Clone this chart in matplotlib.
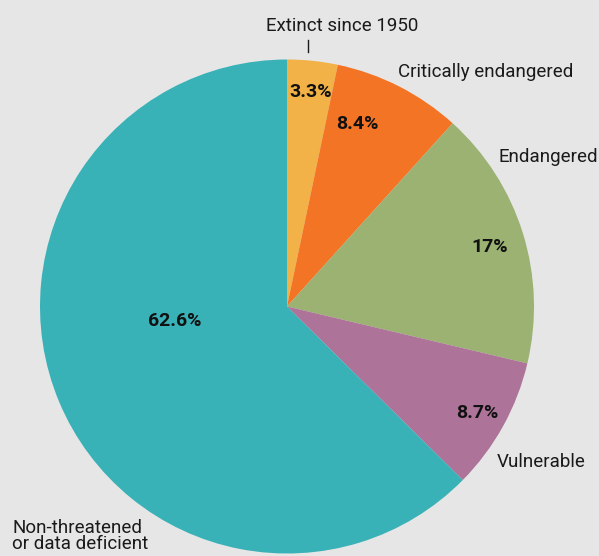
import matplotlib
matplotlib.use('Agg')
import matplotlib.pyplot as plt

categories = ['Extinct since 1950', 'Critically endangered', 'Endangered', 'Vulnerable',
              'Non-threatened\nor data deficient']
values = [3.3, 8.4, 17, 8.7, 62.6]
pct_labels = ['3.3%', '8.4%', '17%', '8.7%', '62.6%']
colors = ['#f2b247', '#f37424', '#9bb273', '#ad7399', '#38b1b7']

plt.rcParams['font.family'] = ['Roboto', 'DejaVu Sans']

W, H = 599, 556
cx, cy, R = 287, 306.5, 247.0
bg = '#e6e6e6'

fig = plt.figure(figsize=(W / 100, H / 100), dpi=100, facecolor=bg)
ax = fig.add_axes([0, 0, 1, 1])
ax.set_facecolor(bg)

ax.pie(values, colors=colors, startangle=90, counterclock=False, radius=1,
       wedgeprops=dict(linewidth=0))

# pie() resets the limits, so fix them afterwards
ax.set_xlim(-cx / R, (W - cx) / R)
ax.set_ylim(-(H - cy) / R, cy / R)
ax.set_aspect('equal')
ax.axis('off')

def px(x, y):
    return (x - cx) / R, (cy - y) / R

# percentage labels
pct_pos = [(311, 92), (357, 124), (490, 247), (477, 413), (175, 321)]
for lab, (x, y) in zip(pct_labels, pct_pos):
    ax.text(*px(x, y), lab, ha='center', va='center', fontsize=14, fontweight='bold', color='#111111')

# category labels
cat_pos = [(342, 26, 'center'), (398, 72, 'left'), (498, 157, 'left'), (497, 462, 'left'), (12, 536, 'left')]
for lab, (x, y, ha) in zip(categories, cat_pos):
    ax.text(*px(x, y), lab, ha=ha, va='center', fontsize=13.5, color='#1a1a1a', linespacing=0.9)

# tick for small slice
ax.plot([px(308, 40)[0], px(308, 52)[0]], [px(308, 40)[1], px(308, 52)[1]], color='#1a1a1a', lw=1)

fig.savefig('out.png', dpi=100, facecolor=bg)
